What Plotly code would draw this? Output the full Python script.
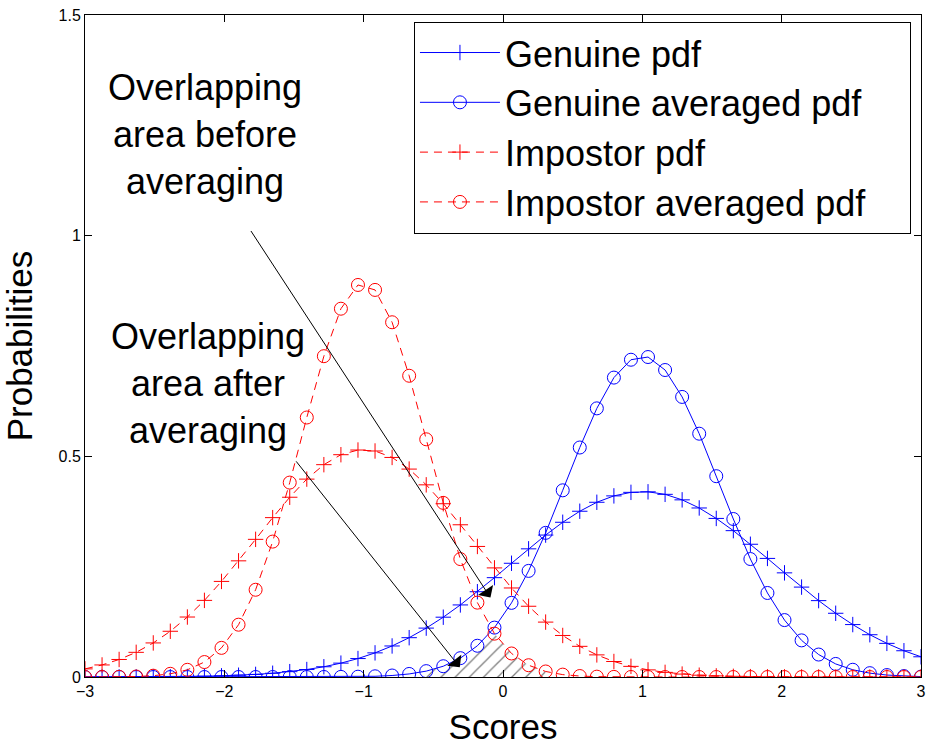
import plotly.graph_objects as go

# ---- data ----
scores = [-3.0, -2.8776, -2.7551, -2.6327, -2.5102, -2.3878, -2.2653, -2.1429, -2.0204, -1.898,
          -1.7755, -1.6531, -1.5306, -1.4082, -1.2857, -1.1633, -1.0408, -0.9184, -0.7959, -0.6735,
          -0.551, -0.4286, -0.3061, -0.1837, -0.0612, 0.0612, 0.1837, 0.3061, 0.4286, 0.551,
          0.6735, 0.7959, 0.9184, 1.0408, 1.1633, 1.2857, 1.4082, 1.5306, 1.6531, 1.7755,
          1.898, 2.0204, 2.1429, 2.2653, 2.3878, 2.5102, 2.6327, 2.7551, 2.8776, 3.0]

genuine_pdf = [0.0001, 0.0001, 0.0002, 0.0003, 0.0005, 0.0007, 0.0011, 0.0018, 0.0027, 0.0040,
               0.0059, 0.0085, 0.0121, 0.0169, 0.0232, 0.0314, 0.0418, 0.0547, 0.0703, 0.0891,
               0.1108, 0.1355, 0.1633, 0.1932, 0.2251, 0.2577, 0.2904, 0.3216, 0.3506, 0.3756,
               0.3959, 0.4104, 0.4184, 0.4196, 0.4139, 0.4014, 0.3830, 0.3593, 0.3316, 0.3008,
               0.2687, 0.2360, 0.2037, 0.1731, 0.1444, 0.1188, 0.0958, 0.0762, 0.0595, 0.0458]

genuine_avg_pdf = [0.0, 0.0, 0.0, 0.0, 0.0, 0.0, 0.0, 0.0, 0.0, 0.0,
                   0.0, 0.0, 0.0, 0.0, 0.0001, 0.0003, 0.0007, 0.0016, 0.0034, 0.0069,
                   0.0133, 0.0244, 0.0427, 0.0708, 0.1119, 0.1680, 0.2404, 0.3266, 0.4230, 0.5200,
                   0.6087, 0.6784, 0.7189, 0.7250, 0.6956, 0.6346, 0.5513, 0.4550, 0.3580, 0.2673,
                   0.1904, 0.1290, 0.0830, 0.0509, 0.0296, 0.0164, 0.0087, 0.0044, 0.0021, 0.0009]

impostor_pdf = [0.0184, 0.0273, 0.0397, 0.0559, 0.0772, 0.1036, 0.1359, 0.1736, 0.2166, 0.2632,
                0.3119, 0.3611, 0.4073, 0.4484, 0.4811, 0.5037, 0.5143, 0.5121, 0.4975, 0.4711,
                0.4354, 0.3926, 0.3449, 0.2958, 0.2472, 0.2017, 0.1603, 0.1244, 0.0941, 0.0695,
                0.0501, 0.0351, 0.0241, 0.0161, 0.0105, 0.0066, 0.0041, 0.0025, 0.0015, 0.0008,
                0.0005, 0.0003, 0.0001, 0.0001, 0.0, 0.0, 0.0, 0.0, 0.0, 0.0]

impostor_avg_pdf = [0.0, 0.0001, 0.0004, 0.0011, 0.0030, 0.0072, 0.0163, 0.0339, 0.0660, 0.1185,
                    0.1977, 0.3068, 0.4405, 0.5880, 0.7269, 0.8345, 0.8883, 0.8771, 0.8038, 0.6826,
                    0.5386, 0.3945, 0.2672, 0.1685, 0.0982, 0.0533, 0.0267, 0.0125, 0.0054, 0.0022,
                    0.0008, 0.0003, 0.0001, 0.0, 0.0, 0.0, 0.0, 0.0, 0.0, 0.0,
                    0.0, 0.0, 0.0, 0.0, 0.0, 0.0, 0.0, 0.0, 0.0, 0.0]

x_ticks = [-3, -2, -1, 0, 1, 2, 3]
y_ticks = [0, 0.5, 1, 1.5]
y_tick_labels = ["0", "0.5", "1", "1.5"]

# overlap after averaging (hatched)
overlap_min = [min(a, b) for a, b in zip(genuine_avg_pdf, impostor_avg_pdf)]
ov_x = [x for x, m in zip(scores, overlap_min) if m > 0.01]
ov_y = [m for m in overlap_min if m > 0.01]

FONT = "Liberation Sans, Arial, Helvetica, sans-serif"
BLUE = "#0000FF"
RED = "#FF0000"

fig = go.Figure()

fig.add_trace(go.Scatter(
    x=ov_x, y=ov_y, mode="none",
    fill="tozeroy", fillcolor="rgba(0,0,0,0)",
    fillpattern=dict(shape="/", fgcolor="black", bgcolor="rgba(0,0,0,0)", size=10, solidity=0.13),
    showlegend=False, hoverinfo="skip"))

fig.add_trace(go.Scatter(
    x=scores, y=genuine_pdf, name="Genuine pdf", mode="lines+markers",
    line=dict(color=BLUE, width=1),
    marker=dict(symbol="cross-thin-open", size=11, color=BLUE, line=dict(color=BLUE, width=1))))
fig.add_trace(go.Scatter(
    x=scores, y=genuine_avg_pdf, name="Genuine averaged pdf", mode="lines+markers",
    line=dict(color=BLUE, width=1),
    marker=dict(symbol="circle-open", size=13, color=BLUE, line=dict(color=BLUE, width=1))))
fig.add_trace(go.Scatter(
    x=scores, y=impostor_pdf, name="Impostor pdf", mode="lines+markers",
    line=dict(color=RED, width=1, dash="8px,6px"),
    marker=dict(symbol="cross-thin-open", size=11, color=RED, line=dict(color=RED, width=1))))
fig.add_trace(go.Scatter(
    x=scores, y=impostor_avg_pdf, name="Impostor averaged pdf", mode="lines+markers",
    line=dict(color=RED, width=1, dash="8px,6px"),
    marker=dict(symbol="circle-open", size=13, color=RED, line=dict(color=RED, width=1))))

# text labels
fig.add_annotation(x=-2.14, y=1.23, xref="x", yref="y", showarrow=False,
                   text="Overlapping<br>area before<br>averaging",
                   font=dict(family=FONT, size=36, color="black"), align="center")
fig.add_annotation(x=-2.12, y=0.665, xref="x", yref="y", showarrow=False,
                   text="Overlapping<br>area after<br>averaging",
                   font=dict(family=FONT, size=36, color="black"), align="center")

# arrows
fig.add_annotation(x=-0.09, y=0.18, ax=-1.816, ay=1.014, xref="x", yref="y",
                   axref="x", ayref="y", text="", showarrow=True,
                   arrowhead=1, arrowsize=3, arrowwidth=1, arrowcolor="black")
fig.add_annotation(x=-0.31, y=0.022, ax=-1.493, ay=0.492, xref="x", yref="y",
                   axref="x", ayref="y", text="", showarrow=True,
                   arrowhead=1, arrowsize=3, arrowwidth=1, arrowcolor="black")

axis_common = dict(showgrid=False, zeroline=False, showline=True, linecolor="black",
                   linewidth=1, mirror="ticks", ticks="inside", ticklen=7,
                   tickcolor="black", automargin=False,
                   tickfont=dict(family=FONT, size=16, color="black"))

fig.update_xaxes(range=[-3, 3], tickvals=x_ticks,
                 title=dict(text="Scores", font=dict(family=FONT, size=35, color="black")),
                 **axis_common)
fig.update_yaxes(range=[0, 1.5], tickvals=y_ticks, ticktext=y_tick_labels,
                 title=dict(text="Probabilities", font=dict(family=FONT, size=35, color="black")),
                 **axis_common)

fig.update_layout(
    width=929, height=752,
    margin=dict(l=85, r=8, t=15, b=75, autoexpand=False),
    paper_bgcolor="white", plot_bgcolor="white",
    font=dict(family=FONT, color="black"),
    hovermode=False,
    legend=dict(x=0.988, y=0.99, xanchor="right", yanchor="top",
                orientation="h", entrywidth=400, entrywidthmode="pixels",
                bgcolor="white", bordercolor="black", borderwidth=1,
                font=dict(family=FONT, size=36, color="black"),
                itemwidth=80, tracegroupgap=0),
)

fig.write_html("out.html", config={"displayModeBar": False},
               post_script="document.body.style.margin='0';document.body.style.overflow='hidden';")
